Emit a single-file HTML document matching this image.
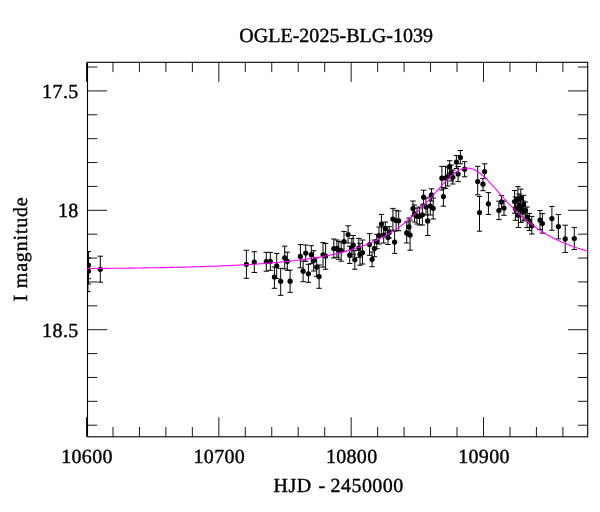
<!DOCTYPE html>
<html><head><meta charset="utf-8"><title>OGLE-2025-BLG-1039</title>
<style>html,body{margin:0;padding:0;background:#fff;}body{width:600px;height:512px;overflow:hidden;font-family:"Liberation Serif",serif;}svg{display:block;will-change:transform;transform:translateZ(0);}</style>
</head><body>
<svg width="600" height="512" viewBox="0 0 600 512">
<defs><clipPath id="c"><rect x="87.0" y="62.3" width="501.2" height="374.5"/></clipPath></defs>
<rect width="600" height="512" fill="#fff"/>
<path d="M86.50 436.80v-19.60M86.50 62.30v19.60M112.97 436.80v-9.80M112.97 62.30v9.80M139.43 436.80v-9.80M139.43 62.30v9.80M165.90 436.80v-9.80M165.90 62.30v9.80M192.36 436.80v-9.80M192.36 62.30v9.80M218.83 436.80v-19.60M218.83 62.30v19.60M245.30 436.80v-9.80M245.30 62.30v9.80M271.76 436.80v-9.80M271.76 62.30v9.80M298.23 436.80v-9.80M298.23 62.30v9.80M324.69 436.80v-9.80M324.69 62.30v9.80M351.16 436.80v-19.60M351.16 62.30v19.60M377.63 436.80v-9.80M377.63 62.30v9.80M404.09 436.80v-9.80M404.09 62.30v9.80M430.56 436.80v-9.80M430.56 62.30v9.80M457.02 436.80v-9.80M457.02 62.30v9.80M483.49 436.80v-19.60M483.49 62.30v19.60M509.96 436.80v-9.80M509.96 62.30v9.80M536.42 436.80v-9.80M536.42 62.30v9.80M562.89 436.80v-9.80M562.89 62.30v9.80M87.50 67.02h9.80M587.70 67.02h-9.80M87.50 90.90h19.60M587.70 90.90h-19.60M87.50 114.78h9.80M587.70 114.78h-9.80M87.50 138.66h9.80M587.70 138.66h-9.80M87.50 162.54h9.80M587.70 162.54h-9.80M87.50 186.42h9.80M587.70 186.42h-9.80M87.50 210.30h19.60M587.70 210.30h-19.60M87.50 234.18h9.80M587.70 234.18h-9.80M87.50 258.06h9.80M587.70 258.06h-9.80M87.50 281.94h9.80M587.70 281.94h-9.80M87.50 305.82h9.80M587.70 305.82h-9.80M87.50 329.70h19.60M587.70 329.70h-19.60M87.50 353.58h9.80M587.70 353.58h-9.80M87.50 377.46h9.80M587.70 377.46h-9.80M87.50 401.34h9.80M587.70 401.34h-9.80M87.50 425.22h9.80M587.70 425.22h-9.80" stroke="#000" stroke-width="0.9" fill="none"/>
<rect x="87.50" y="62.30" width="500.20" height="374.50" fill="none" stroke="#000" stroke-width="1.1"/>
<g clip-path="url(#c)">
<path d="M88.4 251.7V278.7M85.7 251.7h5.4M85.7 278.7h5.4M88.4 258.0V284.0M85.7 258.0h5.4M85.7 284.0h5.4M87.9 251.5V291.6M85.2 251.5h5.4M85.2 291.6h5.4M100.3 256.2V282.2M97.6 256.2h5.4M97.6 282.2h5.4M246.4 250.3V278.3M243.7 250.3h5.4M243.7 278.3h5.4M254.3 251.7V272.5M251.6 251.7h5.4M251.6 272.5h5.4M266.3 252.3V271.2M263.6 252.3h5.4M263.6 271.2h5.4M270.3 252.4V270.3M267.6 252.4h5.4M267.6 270.3h5.4M276.7 253.4V278.5M274.0 253.4h5.4M274.0 278.5h5.4M274.4 267.0V288.3M271.7 267.0h5.4M271.7 288.3h5.4M280.7 268.3V295.3M278.0 268.3h5.4M278.0 295.3h5.4M284.7 246.2V268.8M282.0 246.2h5.4M282.0 268.8h5.4M287.3 252.2V270.3M284.6 252.2h5.4M284.6 270.3h5.4M290.1 270.2V292.3M287.4 270.2h5.4M287.4 292.3h5.4M300.4 244.6V267.8M297.7 244.6h5.4M297.7 267.8h5.4M305.7 245.0V261.3M303.0 245.0h5.4M303.0 261.3h5.4M303.1 261.0V281.7M300.4 261.0h5.4M300.4 281.7h5.4M308.4 264.3V282.3M305.7 264.3h5.4M305.7 282.3h5.4M311.3 245.7V263.7M308.6 245.7h5.4M308.6 263.7h5.4M313.7 250.7V271.0M311.0 250.7h5.4M311.0 271.0h5.4M316.7 257.7V276.3M314.0 257.7h5.4M314.0 276.3h5.4M319.1 265.0V288.3M316.4 265.0h5.4M316.4 288.3h5.4M323.0 242.6V267.1M320.3 242.6h5.4M320.3 267.1h5.4M325.6 243.5V269.3M322.9 243.5h5.4M322.9 269.3h5.4M333.8 239.0V258.0M331.1 239.0h5.4M331.1 258.0h5.4M336.9 240.0V257.3M334.2 240.0h5.4M334.2 257.3h5.4M338.7 241.3V259.3M336.0 241.3h5.4M336.0 259.3h5.4M341.2 242.0V261.2M338.5 242.0h5.4M338.5 261.2h5.4M344.0 231.4V251.3M341.3 231.4h5.4M341.3 251.3h5.4M348.1 225.8V243.0M345.4 225.8h5.4M345.4 243.0h5.4M349.7 246.2V263.5M347.0 246.2h5.4M347.0 263.5h5.4M353.2 235.5V254.8M350.5 235.5h5.4M350.5 254.8h5.4M351.8 238.4V257.0M349.1 238.4h5.4M349.1 257.0h5.4M354.8 250.5V269.2M352.1 250.5h5.4M352.1 269.2h5.4M358.8 238.4V257.3M356.1 238.4h5.4M356.1 257.3h5.4M360.0 243.3V265.2M357.3 243.3h5.4M357.3 265.2h5.4M362.5 240.0V264.0M359.8 240.0h5.4M359.8 264.0h5.4M369.6 233.6V255.3M366.9 233.6h5.4M366.9 255.3h5.4M372.1 252.0V266.7M369.4 252.0h5.4M369.4 266.7h5.4M374.4 240.0V256.7M371.7 240.0h5.4M371.7 256.7h5.4M376.8 234.3V248.7M374.1 234.3h5.4M374.1 248.7h5.4M379.0 227.0V244.0M376.3 227.0h5.4M376.3 244.0h5.4M381.4 214.4V234.2M378.7 214.4h5.4M378.7 234.2h5.4M385.3 222.0V235.0M382.6 222.0h5.4M382.6 235.0h5.4M383.7 227.0V243.0M381.0 227.0h5.4M381.0 243.0h5.4M388.0 230.0V244.5M385.3 230.0h5.4M385.3 244.5h5.4M389.2 226.7V238.0M386.5 226.7h5.4M386.5 238.0h5.4M392.9 208.4V230.2M390.2 208.4h5.4M390.2 230.2h5.4M394.6 231.0V253.4M391.9 231.0h5.4M391.9 253.4h5.4M396.1 210.3V230.7M393.4 210.3h5.4M393.4 230.7h5.4M398.7 211.1V230.7M396.0 211.1h5.4M396.0 230.7h5.4M406.7 222.0V243.0M404.0 222.0h5.4M404.0 243.0h5.4M410.1 220.0V250.2M407.4 220.0h5.4M407.4 250.2h5.4M409.0 218.0V236.0M406.3 218.0h5.4M406.3 236.0h5.4M413.0 201.0V216.0M410.3 201.0h5.4M410.3 216.0h5.4M414.5 205.0V222.0M411.8 205.0h5.4M411.8 222.0h5.4M417.0 208.0V224.0M414.3 208.0h5.4M414.3 224.0h5.4M419.5 207.0V225.0M416.8 207.0h5.4M416.8 225.0h5.4M422.4 205.0V225.0M419.7 205.0h5.4M419.7 225.0h5.4M423.6 190.2V204.0M420.9 190.2h5.4M420.9 204.0h5.4M426.0 198.0V215.0M423.3 198.0h5.4M423.3 215.0h5.4M427.7 207.0V235.5M425.0 207.0h5.4M425.0 235.5h5.4M430.3 197.0V215.0M427.6 197.0h5.4M427.6 215.0h5.4M431.5 188.8V201.0M428.8 188.8h5.4M428.8 201.0h5.4M433.2 198.0V219.0M430.5 198.0h5.4M430.5 219.0h5.4M441.9 166.4V190.0M439.2 166.4h5.4M439.2 190.0h5.4M443.4 187.7V206.2M440.7 187.7h5.4M440.7 206.2h5.4M445.6 166.4V188.4M442.9 166.4h5.4M442.9 188.4h5.4M447.7 167.0V186.0M445.0 167.0h5.4M445.0 186.0h5.4M449.6 160.7V173.0M446.9 160.7h5.4M446.9 173.0h5.4M451.3 165.0V181.0M448.6 165.0h5.4M448.6 181.0h5.4M452.8 170.0V184.0M450.1 170.0h5.4M450.1 184.0h5.4M456.4 155.6V168.5M453.7 155.6h5.4M453.7 168.5h5.4M458.1 166.5V181.6M455.4 166.5h5.4M455.4 181.6h5.4M460.4 150.5V163.8M457.7 150.5h5.4M457.7 163.8h5.4M464.6 161.7V176.8M461.9 161.7h5.4M461.9 176.8h5.4M477.7 166.3V194.8M475.0 166.3h5.4M475.0 194.8h5.4M479.5 196.4V231.2M476.8 196.4h5.4M476.8 231.2h5.4M484.6 163.8V178.4M481.9 163.8h5.4M481.9 178.4h5.4M483.0 178.4V190.7M480.3 178.4h5.4M480.3 190.7h5.4M488.4 192.6V214.5M485.7 192.6h5.4M485.7 214.5h5.4M498.9 201.2V219.6M496.2 201.2h5.4M496.2 219.6h5.4M501.5 195.6V208.5M498.8 195.6h5.4M498.8 208.5h5.4M504.0 201.0V215.3M501.3 201.0h5.4M501.3 215.3h5.4M514.6 190.5V213.2M511.9 190.5h5.4M511.9 213.2h5.4M515.4 197.0V220.3M512.7 197.0h5.4M512.7 220.3h5.4M517.9 186.6V211.0M515.2 186.6h5.4M515.2 211.0h5.4M518.4 203.0V227.5M515.7 203.0h5.4M515.7 227.5h5.4M520.8 189.1V208.0M518.1 189.1h5.4M518.1 208.0h5.4M519.0 194.0V217.0M516.3 194.0h5.4M516.3 217.0h5.4M520.6 196.0V222.5M517.9 196.0h5.4M517.9 222.5h5.4M523.6 195.3V214.0M520.9 195.3h5.4M520.9 214.0h5.4M523.0 201.0V221.0M520.3 201.0h5.4M520.3 221.0h5.4M525.3 202.0V220.0M522.6 202.0h5.4M522.6 220.0h5.4M527.1 207.0V227.6M524.4 207.0h5.4M524.4 227.6h5.4M529.4 213.5V230.5M526.7 213.5h5.4M526.7 230.5h5.4M531.8 216.4V234.0M529.1 216.4h5.4M529.1 234.0h5.4M540.0 210.5V229.5M537.3 210.5h5.4M537.3 229.5h5.4M542.4 213.6V233.1M539.7 213.6h5.4M539.7 233.1h5.4M551.9 206.4V230.3M549.2 206.4h5.4M549.2 230.3h5.4M558.4 214.5V238.9M555.7 214.5h5.4M555.7 238.9h5.4M565.2 225.2V252.5M562.5 225.2h5.4M562.5 252.5h5.4M574.3 227.4V249.5M571.6 227.4h5.4M571.6 249.5h5.4" stroke="#000" stroke-width="1" fill="none"/>
<g fill="#000"><circle cx="88.4" cy="265.2" r="2.6"/><circle cx="88.4" cy="271.1" r="2.6"/><circle cx="87.9" cy="271.4" r="2.6"/><circle cx="100.3" cy="269.3" r="2.6"/><circle cx="246.4" cy="264.3" r="2.6"/><circle cx="254.3" cy="262.1" r="2.6"/><circle cx="266.3" cy="261.7" r="2.6"/><circle cx="270.3" cy="261.4" r="2.6"/><circle cx="276.7" cy="265.8" r="2.6"/><circle cx="274.4" cy="277.0" r="2.6"/><circle cx="280.7" cy="281.3" r="2.6"/><circle cx="284.7" cy="257.8" r="2.6"/><circle cx="287.3" cy="261.3" r="2.6"/><circle cx="290.1" cy="281.2" r="2.6"/><circle cx="300.4" cy="256.4" r="2.6"/><circle cx="305.7" cy="253.1" r="2.6"/><circle cx="303.1" cy="271.2" r="2.6"/><circle cx="308.4" cy="273.8" r="2.6"/><circle cx="311.3" cy="254.7" r="2.6"/><circle cx="313.7" cy="260.6" r="2.6"/><circle cx="316.7" cy="267.0" r="2.6"/><circle cx="319.1" cy="276.6" r="2.6"/><circle cx="323.0" cy="254.8" r="2.6"/><circle cx="325.6" cy="256.0" r="2.6"/><circle cx="333.8" cy="248.5" r="2.6"/><circle cx="336.9" cy="248.7" r="2.6"/><circle cx="338.7" cy="250.0" r="2.6"/><circle cx="341.2" cy="250.6" r="2.6"/><circle cx="344.0" cy="241.6" r="2.6"/><circle cx="348.1" cy="234.5" r="2.6"/><circle cx="349.7" cy="255.2" r="2.6"/><circle cx="353.2" cy="245.2" r="2.6"/><circle cx="351.8" cy="248.0" r="2.6"/><circle cx="354.8" cy="259.8" r="2.6"/><circle cx="358.8" cy="248.0" r="2.6"/><circle cx="360.0" cy="254.2" r="2.6"/><circle cx="362.5" cy="252.5" r="2.6"/><circle cx="369.6" cy="244.5" r="2.6"/><circle cx="372.1" cy="259.3" r="2.6"/><circle cx="374.4" cy="248.6" r="2.6"/><circle cx="376.8" cy="241.4" r="2.6"/><circle cx="379.0" cy="235.5" r="2.6"/><circle cx="381.4" cy="224.1" r="2.6"/><circle cx="385.3" cy="228.4" r="2.6"/><circle cx="383.7" cy="235.0" r="2.6"/><circle cx="388.0" cy="237.6" r="2.6"/><circle cx="389.2" cy="232.4" r="2.6"/><circle cx="392.9" cy="219.0" r="2.6"/><circle cx="394.6" cy="242.1" r="2.6"/><circle cx="396.1" cy="220.5" r="2.6"/><circle cx="398.7" cy="220.8" r="2.6"/><circle cx="406.7" cy="232.9" r="2.6"/><circle cx="410.1" cy="235.0" r="2.6"/><circle cx="409.0" cy="226.8" r="2.6"/><circle cx="413.0" cy="208.6" r="2.6"/><circle cx="414.5" cy="213.8" r="2.6"/><circle cx="417.0" cy="216.2" r="2.6"/><circle cx="419.5" cy="216.2" r="2.6"/><circle cx="422.4" cy="214.8" r="2.6"/><circle cx="423.6" cy="197.2" r="2.6"/><circle cx="426.0" cy="206.8" r="2.6"/><circle cx="427.7" cy="220.9" r="2.6"/><circle cx="430.3" cy="206.1" r="2.6"/><circle cx="431.5" cy="194.9" r="2.6"/><circle cx="433.2" cy="208.3" r="2.6"/><circle cx="441.9" cy="178.2" r="2.6"/><circle cx="443.4" cy="196.5" r="2.6"/><circle cx="445.6" cy="177.9" r="2.6"/><circle cx="447.7" cy="176.8" r="2.6"/><circle cx="449.6" cy="166.7" r="2.6"/><circle cx="451.3" cy="173.2" r="2.6"/><circle cx="452.8" cy="177.3" r="2.6"/><circle cx="456.4" cy="162.0" r="2.6"/><circle cx="458.1" cy="174.0" r="2.6"/><circle cx="460.4" cy="157.6" r="2.6"/><circle cx="464.6" cy="169.2" r="2.6"/><circle cx="477.7" cy="181.5" r="2.6"/><circle cx="479.5" cy="212.5" r="2.6"/><circle cx="484.6" cy="171.6" r="2.6"/><circle cx="483.0" cy="184.2" r="2.6"/><circle cx="488.4" cy="203.8" r="2.6"/><circle cx="498.9" cy="210.5" r="2.6"/><circle cx="501.5" cy="201.9" r="2.6"/><circle cx="504.0" cy="208.1" r="2.6"/><circle cx="514.6" cy="201.5" r="2.6"/><circle cx="515.4" cy="208.5" r="2.6"/><circle cx="517.9" cy="199.3" r="2.6"/><circle cx="518.4" cy="215.0" r="2.6"/><circle cx="520.8" cy="198.4" r="2.6"/><circle cx="519.0" cy="205.3" r="2.6"/><circle cx="520.6" cy="208.8" r="2.6"/><circle cx="523.6" cy="204.7" r="2.6"/><circle cx="523.0" cy="211.2" r="2.6"/><circle cx="525.3" cy="210.6" r="2.6"/><circle cx="527.1" cy="217.0" r="2.6"/><circle cx="529.4" cy="221.1" r="2.6"/><circle cx="531.8" cy="225.8" r="2.6"/><circle cx="540.0" cy="220.2" r="2.6"/><circle cx="542.4" cy="223.5" r="2.6"/><circle cx="551.9" cy="218.6" r="2.6"/><circle cx="558.4" cy="226.6" r="2.6"/><circle cx="565.2" cy="238.9" r="2.6"/><circle cx="574.3" cy="238.6" r="2.6"/></g>
<path d="M86.5 268.6 L87.8 268.6 L89.0 268.6 L90.3 268.5 L91.5 268.5 L92.8 268.5 L94.1 268.5 L95.3 268.5 L96.6 268.5 L97.8 268.5 L99.1 268.5 L100.4 268.4 L101.6 268.4 L102.9 268.4 L104.1 268.4 L105.4 268.4 L106.7 268.4 L107.9 268.4 L109.2 268.4 L110.4 268.3 L111.7 268.3 L113.0 268.3 L114.2 268.3 L115.5 268.3 L116.7 268.3 L118.0 268.3 L119.3 268.2 L120.5 268.2 L121.8 268.2 L123.0 268.2 L124.3 268.2 L125.6 268.2 L126.8 268.2 L128.1 268.1 L129.3 268.1 L130.6 268.1 L131.9 268.1 L133.1 268.1 L134.4 268.1 L135.7 268.0 L136.9 268.0 L138.2 268.0 L139.4 268.0 L140.7 268.0 L142.0 267.9 L143.2 267.9 L144.5 267.9 L145.7 267.9 L147.0 267.9 L148.3 267.8 L149.5 267.8 L150.8 267.8 L152.0 267.8 L153.3 267.8 L154.6 267.7 L155.8 267.7 L157.1 267.7 L158.3 267.7 L159.6 267.6 L160.9 267.6 L162.1 267.6 L163.4 267.6 L164.6 267.6 L165.9 267.5 L167.2 267.5 L168.4 267.5 L169.7 267.4 L170.9 267.4 L172.2 267.4 L173.5 267.4 L174.7 267.3 L176.0 267.3 L177.2 267.3 L178.5 267.3 L179.8 267.2 L181.0 267.2 L182.3 267.2 L183.5 267.1 L184.8 267.1 L186.1 267.1 L187.3 267.0 L188.6 267.0 L189.8 267.0 L191.1 266.9 L192.4 266.9 L193.6 266.9 L194.9 266.8 L196.1 266.8 L197.4 266.7 L198.7 266.7 L199.9 266.7 L201.2 266.6 L202.4 266.6 L203.7 266.6 L205.0 266.5 L206.2 266.5 L207.5 266.4 L208.7 266.4 L210.0 266.3 L211.3 266.3 L212.5 266.3 L213.8 266.2 L215.0 266.2 L216.3 266.1 L217.6 266.1 L218.8 266.0 L220.1 266.0 L221.4 265.9 L222.6 265.9 L223.9 265.8 L225.1 265.8 L226.4 265.7 L227.7 265.6 L228.9 265.6 L230.2 265.5 L231.4 265.5 L232.7 265.4 L234.0 265.4 L235.2 265.3 L236.5 265.2 L237.7 265.2 L239.0 265.1 L240.3 265.0 L241.5 265.0 L242.8 264.9 L244.0 264.8 L245.3 264.8 L246.6 264.7 L247.8 264.6 L249.1 264.5 L250.3 264.5 L251.6 264.4 L252.9 264.3 L254.1 264.2 L255.4 264.1 L256.6 264.1 L257.9 264.0 L259.2 263.9 L260.4 263.8 L261.7 263.7 L262.9 263.6 L264.2 263.5 L265.5 263.4 L266.7 263.3 L268.0 263.2 L269.2 263.1 L270.5 263.0 L271.8 262.9 L273.0 262.8 L274.3 262.7 L275.5 262.6 L276.8 262.5 L278.1 262.4 L279.3 262.3 L280.6 262.2 L281.8 262.0 L283.1 261.9 L284.4 261.8 L285.6 261.7 L286.9 261.5 L288.1 261.4 L289.4 261.3 L290.7 261.1 L291.9 261.0 L293.2 260.8 L294.4 260.7 L295.7 260.5 L297.0 260.4 L298.2 260.2 L299.5 260.1 L300.7 259.9 L302.0 259.8 L303.3 259.6 L304.5 259.4 L305.8 259.2 L307.0 259.1 L308.3 258.9 L309.6 258.7 L310.8 258.5 L312.1 258.3 L313.4 258.1 L314.6 257.9 L315.9 257.7 L317.1 257.5 L318.4 257.3 L319.7 257.1 L320.9 256.9 L322.2 256.6 L323.4 256.4 L324.7 256.2 L326.0 255.9 L327.2 255.7 L328.5 255.4 L329.7 255.2 L331.0 254.9 L332.3 254.6 L333.5 254.4 L334.8 254.1 L336.0 253.8 L337.3 253.5 L338.6 253.2 L339.8 252.9 L341.1 252.6 L342.3 252.3 L343.6 251.9 L344.9 251.6 L346.1 251.3 L347.4 250.9 L348.6 250.6 L349.9 250.2 L351.2 249.8 L352.4 249.4 L353.7 249.1 L354.9 248.7 L356.2 248.3 L357.5 247.8 L358.7 247.4 L360.0 247.0 L361.2 246.5 L362.5 246.1 L363.8 245.6 L365.0 245.1 L366.3 244.7 L367.5 244.2 L368.8 243.7 L370.1 243.1 L371.3 242.6 L372.6 242.1 L373.8 241.5 L375.1 240.9 L376.4 240.3 L377.6 239.7 L378.9 239.1 L380.1 238.5 L381.4 237.9 L382.7 237.2 L383.9 236.5 L385.2 235.9 L386.4 235.2 L387.7 234.4 L389.0 233.7 L390.2 233.0 L391.5 232.2 L392.7 231.4 L394.0 230.6 L395.3 229.8 L396.5 228.9 L397.8 228.1 L399.1 227.2 L400.3 226.3 L401.6 225.4 L402.8 224.4 L404.1 223.4 L405.4 222.5 L406.6 221.4 L407.9 220.4 L409.1 219.4 L410.4 218.3 L411.7 217.2 L412.9 216.1 L414.2 214.9 L415.4 213.8 L416.7 212.6 L418.0 211.4 L419.2 210.1 L420.5 208.9 L421.7 207.6 L423.0 206.3 L424.3 205.0 L425.5 203.7 L426.8 202.3 L428.0 201.0 L429.3 199.6 L430.6 198.2 L431.8 196.8 L433.1 195.4 L434.3 193.9 L435.6 192.5 L436.9 191.1 L438.1 189.7 L439.4 188.2 L440.6 186.8 L441.9 185.4 L443.2 184.0 L444.4 182.7 L445.7 181.3 L446.9 180.0 L448.2 178.7 L449.5 177.5 L450.7 176.3 L452.0 175.2 L453.2 174.2 L454.5 173.2 L455.8 172.2 L457.0 171.4 L458.3 170.6 L459.5 170.0 L460.8 169.4 L462.1 168.9 L463.3 168.5 L464.6 168.2 L465.8 168.1 L467.1 168.0 L468.4 168.1 L469.6 168.2 L470.9 168.5 L472.1 168.8 L473.4 169.3 L474.7 169.9 L475.9 170.5 L477.2 171.3 L478.4 172.1 L479.7 173.0 L481.0 174.0 L482.2 175.0 L483.5 176.1 L484.8 177.3 L486.0 178.5 L487.3 179.8 L488.5 181.1 L489.8 182.4 L491.1 183.8 L492.3 185.2 L493.6 186.6 L494.8 188.0 L496.1 189.4 L497.4 190.8 L498.6 192.3 L499.9 193.7 L501.1 195.1 L502.4 196.5 L503.7 198.0 L504.9 199.4 L506.2 200.7 L507.4 202.1 L508.7 203.5 L510.0 204.8 L511.2 206.1 L512.5 207.4 L513.7 208.7 L515.0 209.9 L516.3 211.2 L517.5 212.4 L518.8 213.6 L520.0 214.7 L521.3 215.9 L522.6 217.0 L523.8 218.1 L525.1 219.2 L526.3 220.2 L527.6 221.3 L528.9 222.3 L530.1 223.3 L531.4 224.2 L532.6 225.2 L533.9 226.1 L535.2 227.0 L536.4 227.9 L537.7 228.8 L538.9 229.6 L540.2 230.5 L541.5 231.3 L542.7 232.1 L544.0 232.8 L545.2 233.6 L546.5 234.3 L547.8 235.0 L549.0 235.7 L550.3 236.4 L551.5 237.1 L552.8 237.8 L554.1 238.4 L555.3 239.0 L556.6 239.6 L557.8 240.2 L559.1 240.8 L560.4 241.4 L561.6 242.0 L562.9 242.5 L564.1 243.0 L565.4 243.6 L566.7 244.1 L567.9 244.6 L569.2 245.1 L570.4 245.5 L571.7 246.0 L573.0 246.5 L574.2 246.9 L575.5 247.3 L576.8 247.8 L578.0 248.2 L579.3 248.6 L580.5 249.0 L581.8 249.4 L583.1 249.8 L584.3 250.1 L585.6 250.5 L586.8 250.9 L588.1 251.2" stroke="#ff00ff" stroke-width="1.1" fill="none" stroke-linejoin="round"/>
</g>
<g font-family="Liberation Serif, serif" font-size="20" fill="#000" stroke="#000" stroke-width="0.4" text-rendering="geometricPrecision">
<text x="239.2" y="42.2" textLength="193.8" lengthAdjust="spacing">OGLE-2025-BLG-1039</text>
<text x="273.6" y="492" textLength="37.6" lengthAdjust="spacing">HJD</text>
<text x="321.9" y="492" text-anchor="middle">-</text>
<text x="330.6" y="492" textLength="72.6" lengthAdjust="spacing">2450000</text>
<text x="87.0" y="463.2" text-anchor="middle" letter-spacing="0.3">10600</text>
<text x="219.3" y="463.2" text-anchor="middle" letter-spacing="0.3">10700</text>
<text x="351.7" y="463.2" text-anchor="middle" letter-spacing="0.3">10800</text>
<text x="484.0" y="463.2" text-anchor="middle" letter-spacing="0.3">10900</text>
<text x="78.7" y="97.9" text-anchor="end" letter-spacing="0.4">17.5</text>
<text x="78.7" y="217.3" text-anchor="end" letter-spacing="0.4">18</text>
<text x="78.7" y="336.7" text-anchor="end" letter-spacing="0.4">18.5</text>
<text transform="translate(27.3 249) rotate(-90)" text-anchor="middle" letter-spacing="0.8">I magnitude</text>
</g>
</svg>
</body></html>
